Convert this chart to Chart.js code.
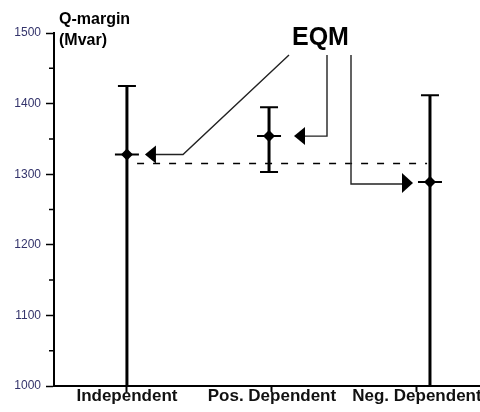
<!DOCTYPE html>
<html>
<head>
<meta charset="utf-8">
<script src="https://cdn.jsdelivr.net/npm/chart.js@4.4.1/dist/chart.umd.min.js"></script>
<style>
  html, body { margin: 0; padding: 0; background: #fff; overflow: hidden; }
  canvas { display: block; }
</style>
</head>
<body>
<canvas id="qChart" width="480" height="412"></canvas>
<script>
// data
const categories = ['Independent', 'Pos. Dependent', 'Neg. Dependent'];
const positions = [1, 1.98, 3.09];
const means = [1328, 1354, 1289];
const upper = [1425, 1395, 1412];
const lower = [1000, 1303, 1000];
const eqmLevel = 1315;
const eqmSpan = [1.07, 3.07];
const yMin = 1000, yMax = 1500;

const FONT = '"Liberation Sans", Arial, sans-serif';

// vertical error bars + small horizontal bar through each mean
const errorBars = {
    id: 'errorBars',
    beforeDatasetsDraw(chart) {
        const ctx = chart.ctx, xs = chart.scales.x, ys = chart.scales.y;
        ctx.save();
        ctx.strokeStyle = '#000';
        for (let i = 0; i < means.length; i++) {
            const px = xs.getPixelForValue(positions[i]);
            const top = ys.getPixelForValue(upper[i]);
            const bot = ys.getPixelForValue(lower[i]);
            const mid = ys.getPixelForValue(means[i]);
            ctx.lineWidth = 3;
            ctx.beginPath();
            ctx.moveTo(px, top); ctx.lineTo(px, bot);
            ctx.stroke();
            ctx.lineWidth = 2;
            ctx.beginPath();
            ctx.moveTo(px - 9, top); ctx.lineTo(px + 9, top);
            ctx.moveTo(px - 9, bot); ctx.lineTo(px + 9, bot);
            ctx.moveTo(px - 12, mid); ctx.lineTo(px + 12, mid);
            ctx.stroke();
        }
        ctx.restore();
    }
};

function arrowHead(ctx, x, y, dir, len, half) {
    ctx.beginPath();
    ctx.moveTo(x, y);
    ctx.lineTo(x - dir * len, y - half);
    ctx.lineTo(x - dir * len, y + half);
    ctx.closePath();
    ctx.fill();
}

// axis extras, titles and the EQM callouts
const decorations = {
    id: 'decorations',
    afterDraw(chart) {
        const ctx = chart.ctx, xs = chart.scales.x, ys = chart.scales.y;
        const left = chart.chartArea.left;
        ctx.save();
        ctx.strokeStyle = '#000';
        ctx.fillStyle = '#000';

        // minor y ticks
        ctx.lineWidth = 1.5;
        ctx.beginPath();
        for (let v = yMin + 50; v < yMax; v += 100) {
            const py = ys.getPixelForValue(v);
            ctx.moveTo(left - 5, py); ctx.lineTo(left, py);
        }
        ctx.stroke();

        // axis title
        ctx.font = 'bold 16px ' + FONT;
        ctx.textAlign = 'left';
        ctx.textBaseline = 'alphabetic';
        ctx.fillText('Q-margin', left + 5, 24);
        ctx.fillText('(Mvar)', left + 5, 45);

        // EQM label
        ctx.font = 'bold 25px ' + FONT;
        ctx.fillText('EQM', 292, 45);

        const p = positions.map((v, i) => ({ x: xs.getPixelForValue(v), y: ys.getPixelForValue(means[i]) }));
        ctx.lineWidth = 1.4;
        ctx.strokeStyle = '#222';

        // to Independent
        ctx.beginPath();
        ctx.moveTo(289, 55);
        ctx.lineTo(183, p[0].y);
        ctx.lineTo(p[0].x + 26, p[0].y);
        ctx.stroke();
        arrowHead(ctx, p[0].x + 18, p[0].y, -1, 11, 9);

        // to Pos. Dependent
        ctx.beginPath();
        ctx.moveTo(327, 55);
        ctx.lineTo(327, p[1].y);
        ctx.lineTo(p[1].x + 33, p[1].y);
        ctx.stroke();
        arrowHead(ctx, p[1].x + 25, p[1].y, -1, 11, 9);

        // to Neg. Dependent
        ctx.beginPath();
        ctx.moveTo(351, 55);
        ctx.lineTo(351, p[2].y + 2);
        ctx.lineTo(p[2].x - 24, p[2].y + 2);
        ctx.stroke();
        arrowHead(ctx, p[2].x - 17, p[2].y + 1, 1, 11, 10);

        ctx.restore();
    }
};

const ctx = document.getElementById('qChart').getContext('2d');
const qChart = new Chart(ctx, {
    data: {
        datasets: [
            {
                type: 'line',
                data: eqmSpan.map(x => ({ x: x, y: eqmLevel })),
                borderColor: '#000',
                borderWidth: 1.5,
                borderDash: [7, 9],
                pointRadius: 0,
                order: 2
            },
            {
                type: 'scatter',
                data: positions.map((x, i) => ({ x: x, y: means[i] })),
                pointStyle: 'rectRot',
                pointRadius: 6,
                backgroundColor: '#000',
                borderColor: '#000',
                borderWidth: 0,
                order: 1
            }
        ]
    },
    options: {
        responsive: false,
        animation: false,
        layout: { autoPadding: false, padding: { top: 33, right: 0, left: 0, bottom: 0 } },
        plugins: {
            legend: { display: false },
            tooltip: { enabled: false }
        },
        scales: {
            x: {
                type: 'linear',
                min: 0.497,
                max: 3.435,
                afterBuildTicks: scale => {
                    scale.ticks = categories.map((c, i) => ({ value: i + 1 }));
                },
                afterFit: scale => {
                    scale.height = 26;
                    scale.paddingLeft = 0;
                    scale.paddingRight = 0;
                },
                grid: { drawOnChartArea: false, tickLength: 6, tickWidth: 2, tickColor: '#000' },
                border: { color: '#000', width: 2 },
                ticks: {
                    padding: -6,
                    maxRotation: 0,
                    autoSkip: false,
                    color: '#111',
                    font: { family: FONT, size: 17, weight: 'bold' },
                    callback: v => categories[Math.round(v) - 1]
                }
            },
            y: {
                min: yMin,
                max: yMax,
                afterFit: scale => {
                    scale.width = 54;
                    scale.paddingTop = 0;
                    scale.paddingBottom = 0;
                },
                grid: { drawOnChartArea: false, tickLength: 8, tickWidth: 1.5, tickColor: '#000' },
                border: { color: '#000', width: 2 },
                ticks: {
                    stepSize: 100,
                    padding: 5,
                    color: '#33336b',
                    font: { family: FONT, size: 12 },
                    callback: v => String(v)
                }
            }
        }
    },
    plugins: [errorBars, decorations]
});
</script>
</body>
</html>
